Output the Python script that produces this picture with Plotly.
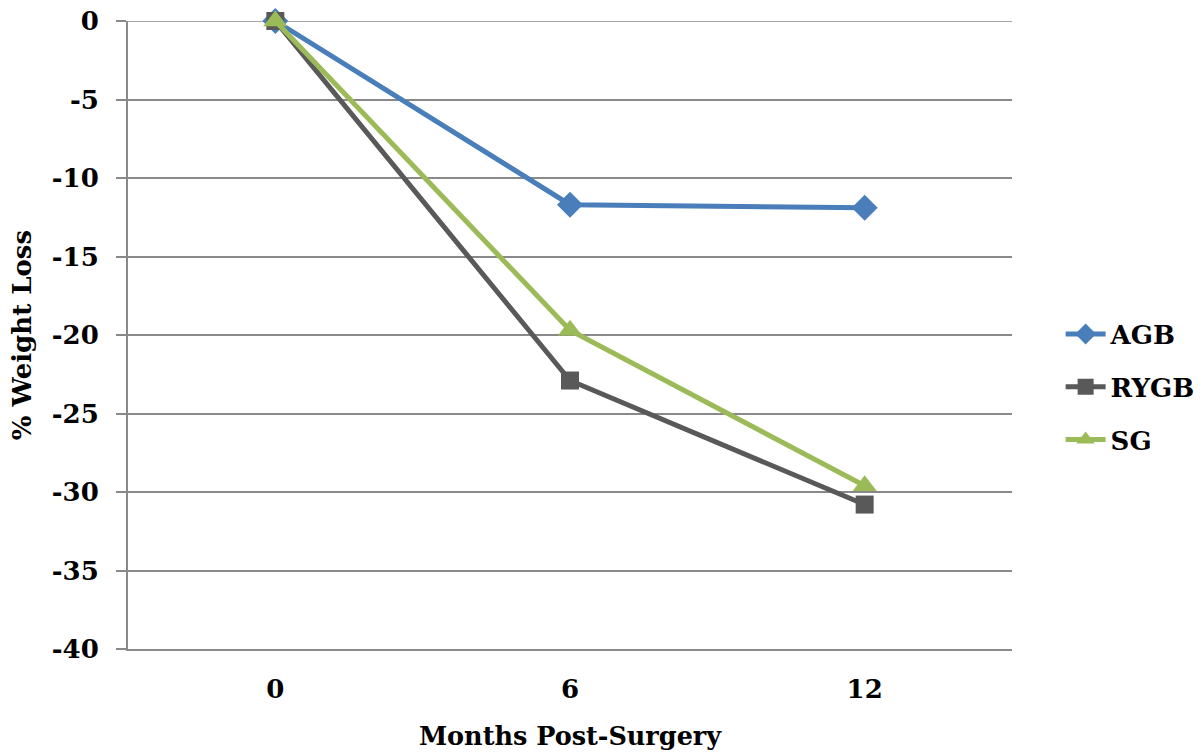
import plotly.graph_objects as go

months = ["0", "6", "12"]
agb = [0, -11.7, -11.9]
rygb = [0, -22.9, -30.8]
sg = [0, -19.7, -29.6]
y_ticks = [0, -5, -10, -15, -20, -25, -30, -35, -40]

FONT = "DejaVu Serif"
GRID = "#898989"

fig = go.Figure()
series = [
    ("AGB", agb, "#4A7EBB", "diamond", 20),
    ("RYGB", rygb, "#595959", "square", 18),
    ("SG", sg, "#9BBB59", "triangle-up", 21),
]
for name, vals, col, sym, sz in series:
    fig.add_trace(go.Scatter(
        x=months, y=vals, name=name, mode="lines+markers",
        line=dict(color=col, width=5),
        marker=dict(symbol=sym, size=sz, color=col),
        cliponaxis=False, legendgroup=name,
    ))

# top gridline at the range edge (y = 0)
fig.add_shape(type="line", xref="paper", yref="y", x0=0, x1=1,
              y0=y_ticks[0], y1=y_ticks[0],
              line=dict(color=GRID, width=1.5), layer="below")

fig.update_layout(
    width=1203, height=756,
    margin=dict(l=128, r=191, t=21, b=107, autoexpand=False),
    paper_bgcolor="white", plot_bgcolor="white",
    font=dict(family=FONT, color="black", size=26),
    showlegend=True,
    legend=dict(x=1.055, y=0.417, xanchor="left", yanchor="middle",
                font=dict(family=FONT, size=26, color="black", weight="bold"),
                tracegroupgap=16, itemwidth=40),
    xaxis=dict(
        type="category", range=[-0.5, 2.5], automargin=False,
        showline=True, linecolor=GRID, linewidth=2,
        showgrid=False, ticks="", zeroline=False,
        ticklabelstandoff=16,
        tickfont=dict(family=FONT, size=26, weight="bold"),
        title=dict(text="Months Post-Surgery", standoff=24,
                   font=dict(family=FONT, size=25.5, weight="bold")),
    ),
    yaxis=dict(
        range=[-40, 0], tickvals=y_ticks, ticktext=[str(v) for v in y_ticks],
        automargin=False, ticklabeloverflow="allow",
        showline=True, linecolor=GRID, linewidth=2,
        showgrid=True, gridcolor=GRID, gridwidth=1.5,
        zeroline=False,
        ticks="outside", ticklen=10, tickcolor=GRID, tickwidth=1.5,
        ticklabelstandoff=12,
        tickfont=dict(family=FONT, size=26, weight="bold"),
        title=dict(text="% Weight Loss", standoff=13,
                   font=dict(family=FONT, size=26, weight="bold")),
    ),
)

fig.write_html("out.html",
               config={"displayModeBar": False},
               post_script="document.body.style.margin='0';document.body.style.overflow='hidden';")
